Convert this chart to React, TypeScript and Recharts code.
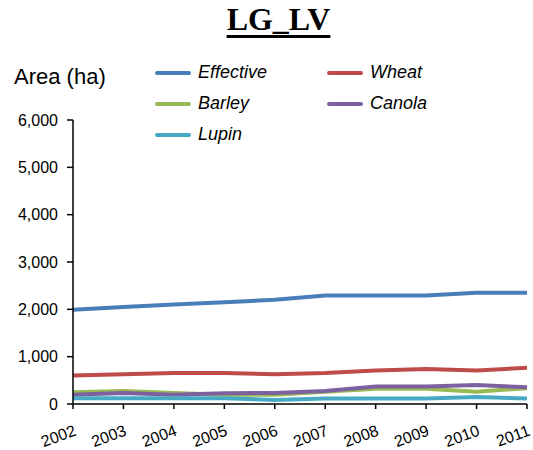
import React from 'react';
import { LineChart, Line, XAxis, YAxis } from 'recharts';

const years = ['2002', '2003', '2004', '2005', '2006', '2007', '2008', '2009', '2010', '2011'];
const effective = [1990, 2050, 2100, 2150, 2200, 2290, 2290, 2290, 2350, 2350];
const wheat = [600, 630, 655, 655, 630, 655, 710, 740, 710, 765];
const barley = [250, 275, 235, 195, 195, 260, 320, 320, 260, 335];
const canola = [195, 235, 195, 225, 235, 275, 370, 370, 400, 355];
const lupin = [120, 120, 120, 120, 85, 115, 115, 115, 150, 115];
const yTicks = [0, 1000, 2000, 3000, 4000, 5000, 6000];

const series = [
  { key: 'effective', name: 'Effective', color: '#4a7ebb', values: effective },
  { key: 'wheat', name: 'Wheat', color: '#be4b48', values: wheat },
  { key: 'barley', name: 'Barley', color: '#98b954', values: barley },
  { key: 'canola', name: 'Canola', color: '#7d60a0', values: canola },
  { key: 'lupin', name: 'Lupin', color: '#46aac5', values: lupin },
];

const data = years.map((year, i) => {
  const row: Record<string, string | number> = { year };
  series.forEach((s) => {
    row[s.key] = s.values[i];
  });
  return row;
});

const font = 'Arial, "Liberation Sans", sans-serif';

const XTick = (props: any) => {
  const { x, y, payload } = props;
  return (
    <text
      x={x + 4}
      y={y + 24}
      textAnchor="end"
      fontSize={16}
      fontFamily={font}
      fill="#000"
      transform={`rotate(-20 ${x + 4} ${y + 24})`}
    >
      {payload.value}
    </text>
  );
};

const legendPos = [
  { left: 155, top: 62 },
  { left: 327, top: 62 },
  { left: 155, top: 93 },
  { left: 327, top: 93 },
  { left: 155, top: 124 },
];

export default function App() {
  return (
    <div style={{ position: 'absolute', left: 0, top: 0, width: 533, height: 450, background: '#fff', fontFamily: font }}>
      <div
        style={{
          position: 'absolute',
          left: 0,
          width: 533,
          top: 1,
          textAlign: 'center',
          fontFamily: '"Liberation Serif", "Times New Roman", serif',
          fontWeight: 'bold',
          fontSize: 32,
          textDecoration: 'underline',
          textDecorationThickness: 3,
          textUnderlineOffset: 5,
          paddingLeft: 12,
        }}
      >
        LG_LV
      </div>
      <div style={{ position: 'absolute', left: 14, top: 64, fontSize: 22 }}>Area (ha)</div>
      {series.map((s, i) => (
        <div
          key={s.key}
          style={{ position: 'absolute', left: legendPos[i].left, top: legendPos[i].top, display: 'flex', alignItems: 'center' }}
        >
          <div style={{ width: 36, height: 4, borderRadius: 2, background: s.color, marginRight: 7 }} />
          <span style={{ fontSize: 18, fontStyle: 'italic' }}>{s.name}</span>
        </div>
      ))}
      <LineChart width={533} height={450} data={data} margin={{ top: 120, right: 6, bottom: 0, left: 0 }}>
        <XAxis
          dataKey="year"
          height={46}
          stroke="#000"
          strokeWidth={1.5}
          tickSize={5}
          tick={<XTick />}
          interval={0}
        />
        <YAxis
          width={73}
          domain={[0, 6000]}
          ticks={yTicks}
          stroke="#000"
          strokeWidth={1.5}
          tickSize={6}
          tickMargin={9}
          tickFormatter={(v: number) => v.toLocaleString('en-US')}
          tick={{ fontSize: 16, fill: '#000', fontFamily: font }}
        />
        {series.map((s) => (
          <Line
            key={s.key}
            dataKey={s.key}
            name={s.name}
            stroke={s.color}
            strokeWidth={4}
            dot={false}
            type="linear"
            isAnimationActive={false}
          />
        ))}
      </LineChart>
    </div>
  );
}
